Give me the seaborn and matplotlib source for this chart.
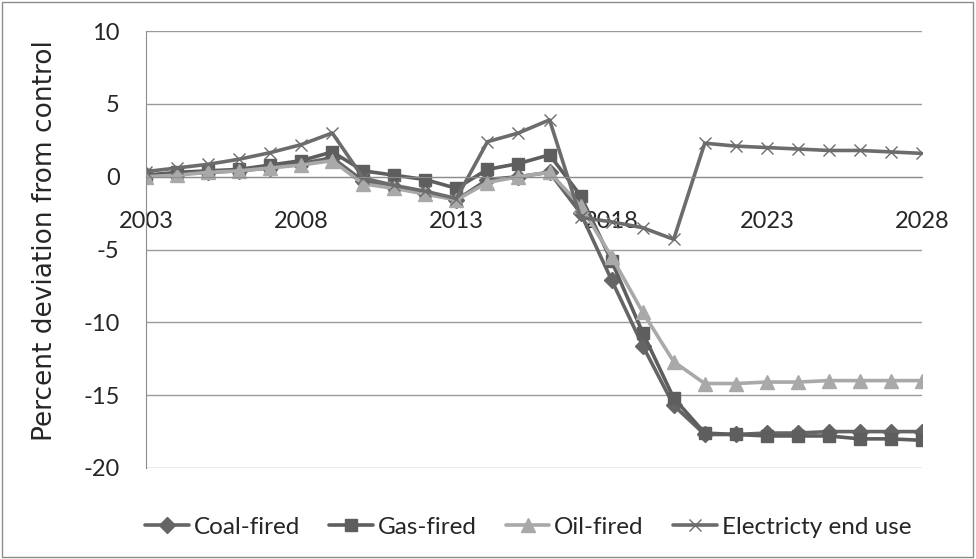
import matplotlib
matplotlib.use("Agg")
import matplotlib.pyplot as plt
import matplotlib.patches as patches
import seaborn as sns
import pandas as pd

# Data
years = list(range(2003, 2029))
coal = [0.1, 0.2, 0.3, 0.4, 0.6, 0.9, 1.3, -0.3, -0.7, -1.1, -1.6, -0.2, 0.0, 0.3,
        -2.5, -7.1, -11.6, -15.7, -17.7, -17.7, -17.6, -17.6, -17.5, -17.5, -17.5, -17.5]
gas = [0.1, 0.3, 0.4, 0.5, 0.8, 1.1, 1.7, 0.4, 0.1, -0.2, -0.8, 0.5, 0.9, 1.5,
       -1.3, -5.8, -10.7, -15.2, -17.6, -17.7, -17.8, -17.8, -17.8, -18.0, -18.0, -18.1]
oil = [0.0, 0.1, 0.3, 0.4, 0.6, 0.8, 1.1, -0.5, -0.8, -1.2, -1.6, -0.4, 0.0, 0.3,
       -2.0, -5.5, -9.3, -12.7, -14.2, -14.2, -14.1, -14.1, -14.0, -14.0, -14.0, -14.0]
electricity = [0.35, 0.6, 0.85, 1.2, 1.65, 2.2, 3.0, -0.1, -0.6, -1.0, -1.5, 2.4, 3.0, 3.9,
               -2.8, -3.1, -3.5, -4.3, 2.3, 2.1, 2.0, 1.9, 1.8, 1.8, 1.7, 1.6]
series_names = ["Coal-fired", "Gas-fired", "Oil-fired", "Electricty end use"]
x_ticks = [2003, 2008, 2013, 2018, 2023, 2028]
y_ticks = [10, 5, 0, -5, -10, -15, -20]

df = pd.DataFrame({"Year": years, series_names[0]: coal, series_names[1]: gas,
                   series_names[2]: oil, series_names[3]: electricity})

sns.set_style("white")
plt.rcParams["font.family"] = ["Lato", "DejaVu Sans"]
plt.rcParams["axes.unicode_minus"] = False

colors = ["#656565", "#5e5e5e", "#a9a9a9", "#6c6c6c"]
markers = ["D", "s", "^", "x"]
msizes = [8, 8, 10, 9]

fig = plt.figure(figsize=(9.76, 5.59), dpi=100)
ax = fig.add_axes([0.1496, 0.1628, 0.7951, 0.7817])

# Plot each series
for name, c, m, ms in zip(series_names, colors, markers, msizes):
    sns.lineplot(data=df, x="Year", y=name, color=c, marker=m, markersize=ms,
                 markeredgecolor=c, markeredgewidth=1.0, linewidth=2.6,
                 label=name, ax=ax, legend=False)

ax.set_xlim(2003, 2028)
ax.set_ylim(-20, 10)
ax.set_xticks(x_ticks)
ax.set_yticks(y_ticks)
ax.yaxis.grid(True, color="#9a9a9a", linewidth=1.0)
ax.set_axisbelow(True)

for s in ["top", "right"]:
    ax.spines[s].set_visible(False)
ax.spines["left"].set_color("#8c8c8c")
ax.spines["bottom"].set_color("#8c8c8c")
ax.spines["bottom"].set_position(("data", 0))
ax.tick_params(axis="x", direction="out", length=6, color="#8c8c8c", pad=19,
               labelsize=17)
ax.tick_params(axis="y", direction="out", length=7, color="#8c8c8c", pad=12,
               labelsize=17)

ax.set_xlabel("")
ax.set_ylabel("Percent deviation from control", fontsize=19, family="DejaVu Sans")
ax.yaxis.set_label_coords(-0.113, 0.52)

handles, labels = ax.get_legend_handles_labels()
fig.legend(handles, labels, loc="center", bbox_to_anchor=(0.541, 0.057), ncol=4,
           frameon=False, fontsize=17.5, handlelength=1.8, columnspacing=1.2,
           handletextpad=0.2)

fig.add_artist(patches.Rectangle((0.002, 0.003), 0.995, 0.994, transform=fig.transFigure,
                                 fill=False, edgecolor="#8c8c8c", linewidth=1.0))

fig.savefig("out.png", dpi=100)
